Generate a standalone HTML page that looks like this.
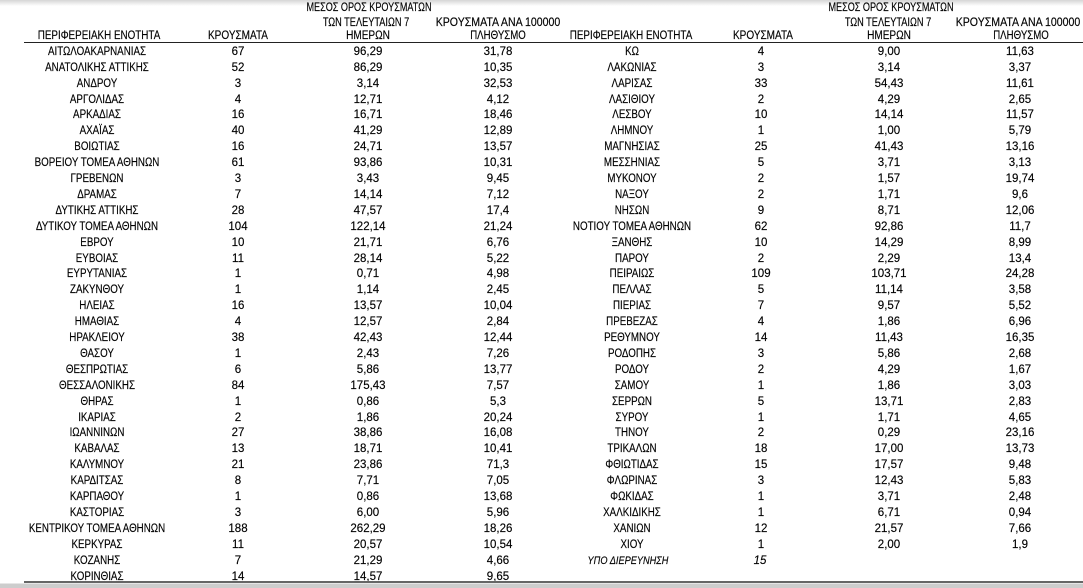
<!DOCTYPE html>
<html><head><meta charset="utf-8">
<style>
html,body{margin:0;padding:0;background:#fff;}
body{width:1083px;height:587px;position:relative;overflow:hidden;font-family:"Liberation Sans",sans-serif;}
.sh{position:absolute;left:0;top:0;width:1083px;height:6px;background:linear-gradient(#d6d6d6,#ffffff);}
.hl{position:absolute;left:24px;top:42px;width:1059px;height:1px;background:#222;}
.bl{position:absolute;left:24px;top:581px;width:1059px;height:2px;background:#666;}
.gb{position:absolute;left:0;top:583px;width:1083px;height:4px;background:#cdcdcd;border-top:1px solid #e6e6e6;}
.t{position:absolute;white-space:nowrap;font-size:11.5px;line-height:16px;color:#000;-webkit-text-stroke:0.15px #000;transform:translateX(-50%) scaleX(var(--s,1));}
.r{position:absolute;left:0;width:1083px;height:16px;}
.r span{position:absolute;top:0;white-space:nowrap;font-size:11.5px;line-height:16px;color:#000;-webkit-text-stroke:0.15px #000;transform:translateX(-50%);}
.r .a{left:97px;transform:translateX(-50%) scaleX(0.85);}
.r .b{left:238px;}
.r .c{left:368px;}
.r .d{left:498px;}
.r .e{left:632px;transform:translateX(-50%) scaleX(0.85);}
.r .f{left:761px;}
.r .g{left:889px;}
.r .h{left:1020px;}
.it{font-style:italic;}
</style></head><body>
<div class="sh"></div>

<div class="t" style="left:369px;top:0px;--s:0.79">ΜΕΣΟΣ ΟΡΟΣ ΚΡΟΥΣΜΑΤΩΝ</div>
<div class="t" style="left:366px;top:14.5px;--s:0.8">ΤΩΝ ΤΕΛΕΥΤΑΙΩΝ 7</div>
<div class="t" style="left:368px;top:28px;--s:0.875">ΗΜΕΡΩΝ</div>
<div class="t" style="left:498px;top:14.5px;--s:0.92">ΚΡΟΥΣΜΑΤΑ ΑΝΑ 100000</div>
<div class="t" style="left:498px;top:28px;--s:0.84">ΠΛΗΘΥΣΜΟ</div>
<div class="t" style="left:99px;top:28px;--s:0.856">ΠΕΡΙΦΕΡΕΙΑΚΗ ΕΝΟΤΗΤΑ</div>
<div class="t" style="left:238px;top:28px;--s:0.87">ΚΡΟΥΣΜΑΤΑ</div>

<div class="t" style="left:891px;top:0px;--s:0.79">ΜΕΣΟΣ ΟΡΟΣ ΚΡΟΥΣΜΑΤΩΝ</div>
<div class="t" style="left:888px;top:14.5px;--s:0.8">ΤΩΝ ΤΕΛΕΥΤΑΙΩΝ 7</div>
<div class="t" style="left:889px;top:28px;--s:0.875">ΗΜΕΡΩΝ</div>
<div class="t" style="left:1018px;top:14.5px;--s:0.92">ΚΡΟΥΣΜΑΤΑ ΑΝΑ 100000</div>
<div class="t" style="left:1021px;top:28px;--s:0.84">ΠΛΗΘΥΣΜΟ</div>
<div class="t" style="left:631px;top:28px;--s:0.856">ΠΕΡΙΦΕΡΕΙΑΚΗ ΕΝΟΤΗΤΑ</div>
<div class="t" style="left:763px;top:28px;--s:0.87">ΚΡΟΥΣΜΑΤΑ</div>

<div class="hl"></div>

<div class="r" style="top:43.8px"><span class="a">ΑΙΤΩΛΟΑΚΑΡΝΑΝΙΑΣ</span><span class="b">67</span><span class="c">96,29</span><span class="d">31,78</span><span class="e">ΚΩ</span><span class="f">4</span><span class="g">9,00</span><span class="h">11,63</span></div>
<div class="r" style="top:59.7px"><span class="a">ΑΝΑΤΟΛΙΚΗΣ ΑΤΤΙΚΗΣ</span><span class="b">52</span><span class="c">86,29</span><span class="d">10,35</span><span class="e">ΛΑΚΩΝΙΑΣ</span><span class="f">3</span><span class="g">3,14</span><span class="h">3,37</span></div>
<div class="r" style="top:75.6px"><span class="a">ΑΝΔΡΟΥ</span><span class="b">3</span><span class="c">3,14</span><span class="d">32,53</span><span class="e">ΛΑΡΙΣΑΣ</span><span class="f">33</span><span class="g">54,43</span><span class="h">11,61</span></div>
<div class="r" style="top:91.5px"><span class="a">ΑΡΓΟΛΙΔΑΣ</span><span class="b">4</span><span class="c">12,71</span><span class="d">4,12</span><span class="e">ΛΑΣΙΘΙΟΥ</span><span class="f">2</span><span class="g">4,29</span><span class="h">2,65</span></div>
<div class="r" style="top:107.4px"><span class="a">ΑΡΚΑΔΙΑΣ</span><span class="b">16</span><span class="c">16,71</span><span class="d">18,46</span><span class="e">ΛΕΣΒΟΥ</span><span class="f">10</span><span class="g">14,14</span><span class="h">11,57</span></div>
<div class="r" style="top:123.3px"><span class="a">ΑΧΑΪΑΣ</span><span class="b">40</span><span class="c">41,29</span><span class="d">12,89</span><span class="e">ΛΗΜΝΟΥ</span><span class="f">1</span><span class="g">1,00</span><span class="h">5,79</span></div>
<div class="r" style="top:139.2px"><span class="a">ΒΟΙΩΤΙΑΣ</span><span class="b">16</span><span class="c">24,71</span><span class="d">13,57</span><span class="e">ΜΑΓΝΗΣΙΑΣ</span><span class="f">25</span><span class="g">41,43</span><span class="h">13,16</span></div>
<div class="r" style="top:155.1px"><span class="a">ΒΟΡΕΙΟΥ ΤΟΜΕΑ ΑΘΗΝΩΝ</span><span class="b">61</span><span class="c">93,86</span><span class="d">10,31</span><span class="e">ΜΕΣΣΗΝΙΑΣ</span><span class="f">5</span><span class="g">3,71</span><span class="h">3,13</span></div>
<div class="r" style="top:171.0px"><span class="a">ΓΡΕΒΕΝΩΝ</span><span class="b">3</span><span class="c">3,43</span><span class="d">9,45</span><span class="e">ΜΥΚΟΝΟΥ</span><span class="f">2</span><span class="g">1,57</span><span class="h">19,74</span></div>
<div class="r" style="top:186.9px"><span class="a">ΔΡΑΜΑΣ</span><span class="b">7</span><span class="c">14,14</span><span class="d">7,12</span><span class="e">ΝΑΞΟΥ</span><span class="f">2</span><span class="g">1,71</span><span class="h">9,6</span></div>
<div class="r" style="top:202.8px"><span class="a">ΔΥΤΙΚΗΣ ΑΤΤΙΚΗΣ</span><span class="b">28</span><span class="c">47,57</span><span class="d">17,4</span><span class="e">ΝΗΣΩΝ</span><span class="f">9</span><span class="g">8,71</span><span class="h">12,06</span></div>
<div class="r" style="top:218.7px"><span class="a">ΔΥΤΙΚΟΥ ΤΟΜΕΑ ΑΘΗΝΩΝ</span><span class="b">104</span><span class="c">122,14</span><span class="d">21,24</span><span class="e">ΝΟΤΙΟΥ ΤΟΜΕΑ ΑΘΗΝΩΝ</span><span class="f">62</span><span class="g">92,86</span><span class="h">11,7</span></div>
<div class="r" style="top:234.6px"><span class="a">ΕΒΡΟΥ</span><span class="b">10</span><span class="c">21,71</span><span class="d">6,76</span><span class="e">ΞΑΝΘΗΣ</span><span class="f">10</span><span class="g">14,29</span><span class="h">8,99</span></div>
<div class="r" style="top:250.5px"><span class="a">ΕΥΒΟΙΑΣ</span><span class="b">11</span><span class="c">28,14</span><span class="d">5,22</span><span class="e">ΠΑΡΟΥ</span><span class="f">2</span><span class="g">2,29</span><span class="h">13,4</span></div>
<div class="r" style="top:266.4px"><span class="a">ΕΥΡΥΤΑΝΙΑΣ</span><span class="b">1</span><span class="c">0,71</span><span class="d">4,98</span><span class="e">ΠΕΙΡΑΙΩΣ</span><span class="f">109</span><span class="g">103,71</span><span class="h">24,28</span></div>
<div class="r" style="top:282.3px"><span class="a">ΖΑΚΥΝΘΟΥ</span><span class="b">1</span><span class="c">1,14</span><span class="d">2,45</span><span class="e">ΠΕΛΛΑΣ</span><span class="f">5</span><span class="g">11,14</span><span class="h">3,58</span></div>
<div class="r" style="top:298.2px"><span class="a">ΗΛΕΙΑΣ</span><span class="b">16</span><span class="c">13,57</span><span class="d">10,04</span><span class="e">ΠΙΕΡΙΑΣ</span><span class="f">7</span><span class="g">9,57</span><span class="h">5,52</span></div>
<div class="r" style="top:314.1px"><span class="a">ΗΜΑΘΙΑΣ</span><span class="b">4</span><span class="c">12,57</span><span class="d">2,84</span><span class="e">ΠΡΕΒΕΖΑΣ</span><span class="f">4</span><span class="g">1,86</span><span class="h">6,96</span></div>
<div class="r" style="top:330.0px"><span class="a">ΗΡΑΚΛΕΙΟΥ</span><span class="b">38</span><span class="c">42,43</span><span class="d">12,44</span><span class="e">ΡΕΘΥΜΝΟΥ</span><span class="f">14</span><span class="g">11,43</span><span class="h">16,35</span></div>
<div class="r" style="top:345.9px"><span class="a">ΘΑΣΟΥ</span><span class="b">1</span><span class="c">2,43</span><span class="d">7,26</span><span class="e">ΡΟΔΟΠΗΣ</span><span class="f">3</span><span class="g">5,86</span><span class="h">2,68</span></div>
<div class="r" style="top:361.8px"><span class="a">ΘΕΣΠΡΩΤΙΑΣ</span><span class="b">6</span><span class="c">5,86</span><span class="d">13,77</span><span class="e">ΡΟΔΟΥ</span><span class="f">2</span><span class="g">4,29</span><span class="h">1,67</span></div>
<div class="r" style="top:377.7px"><span class="a">ΘΕΣΣΑΛΟΝΙΚΗΣ</span><span class="b">84</span><span class="c">175,43</span><span class="d">7,57</span><span class="e">ΣΑΜΟΥ</span><span class="f">1</span><span class="g">1,86</span><span class="h">3,03</span></div>
<div class="r" style="top:393.6px"><span class="a">ΘΗΡΑΣ</span><span class="b">1</span><span class="c">0,86</span><span class="d">5,3</span><span class="e">ΣΕΡΡΩΝ</span><span class="f">5</span><span class="g">13,71</span><span class="h">2,83</span></div>
<div class="r" style="top:409.5px"><span class="a">ΙΚΑΡΙΑΣ</span><span class="b">2</span><span class="c">1,86</span><span class="d">20,24</span><span class="e">ΣΥΡΟΥ</span><span class="f">1</span><span class="g">1,71</span><span class="h">4,65</span></div>
<div class="r" style="top:425.4px"><span class="a">ΙΩΑΝΝΙΝΩΝ</span><span class="b">27</span><span class="c">38,86</span><span class="d">16,08</span><span class="e">ΤΗΝΟΥ</span><span class="f">2</span><span class="g">0,29</span><span class="h">23,16</span></div>
<div class="r" style="top:441.3px"><span class="a">ΚΑΒΑΛΑΣ</span><span class="b">13</span><span class="c">18,71</span><span class="d">10,41</span><span class="e">ΤΡΙΚΑΛΩΝ</span><span class="f">18</span><span class="g">17,00</span><span class="h">13,73</span></div>
<div class="r" style="top:457.2px"><span class="a">ΚΑΛΥΜΝΟΥ</span><span class="b">21</span><span class="c">23,86</span><span class="d">71,3</span><span class="e">ΦΘΙΩΤΙΔΑΣ</span><span class="f">15</span><span class="g">17,57</span><span class="h">9,48</span></div>
<div class="r" style="top:473.1px"><span class="a">ΚΑΡΔΙΤΣΑΣ</span><span class="b">8</span><span class="c">7,71</span><span class="d">7,05</span><span class="e">ΦΛΩΡΙΝΑΣ</span><span class="f">3</span><span class="g">12,43</span><span class="h">5,83</span></div>
<div class="r" style="top:489.0px"><span class="a">ΚΑΡΠΑΘΟΥ</span><span class="b">1</span><span class="c">0,86</span><span class="d">13,68</span><span class="e">ΦΩΚΙΔΑΣ</span><span class="f">1</span><span class="g">3,71</span><span class="h">2,48</span></div>
<div class="r" style="top:504.9px"><span class="a">ΚΑΣΤΟΡΙΑΣ</span><span class="b">3</span><span class="c">6,00</span><span class="d">5,96</span><span class="e">ΧΑΛΚΙΔΙΚΗΣ</span><span class="f">1</span><span class="g">6,71</span><span class="h">0,94</span></div>
<div class="r" style="top:520.8px"><span class="a">ΚΕΝΤΡΙΚΟΥ ΤΟΜΕΑ ΑΘΗΝΩΝ</span><span class="b">188</span><span class="c">262,29</span><span class="d">18,26</span><span class="e">ΧΑΝΙΩΝ</span><span class="f">12</span><span class="g">21,57</span><span class="h">7,66</span></div>
<div class="r" style="top:536.7px"><span class="a">ΚΕΡΚΥΡΑΣ</span><span class="b">11</span><span class="c">20,57</span><span class="d">10,54</span><span class="e">ΧΙΟΥ</span><span class="f">1</span><span class="g">2,00</span><span class="h">1,9</span></div>
<div class="r" style="top:552.6px"><span class="a">ΚΟΖΑΝΗΣ</span><span class="b">7</span><span class="c">21,29</span><span class="d">4,66</span><span class="e it" style="left:628px;transform:translateX(-50%) scaleX(0.8)">ΥΠΟ ΔΙΕΡΕΥΝΗΣΗ</span><span class="f it" style="left:760px">15</span></div>
<div class="r" style="top:568.5px"><span class="a">ΚΟΡΙΝΘΙΑΣ</span><span class="b">14</span><span class="c">14,57</span><span class="d">9,65</span></div>

<div class="bl"></div>
<div class="gb"></div>
</body></html>
